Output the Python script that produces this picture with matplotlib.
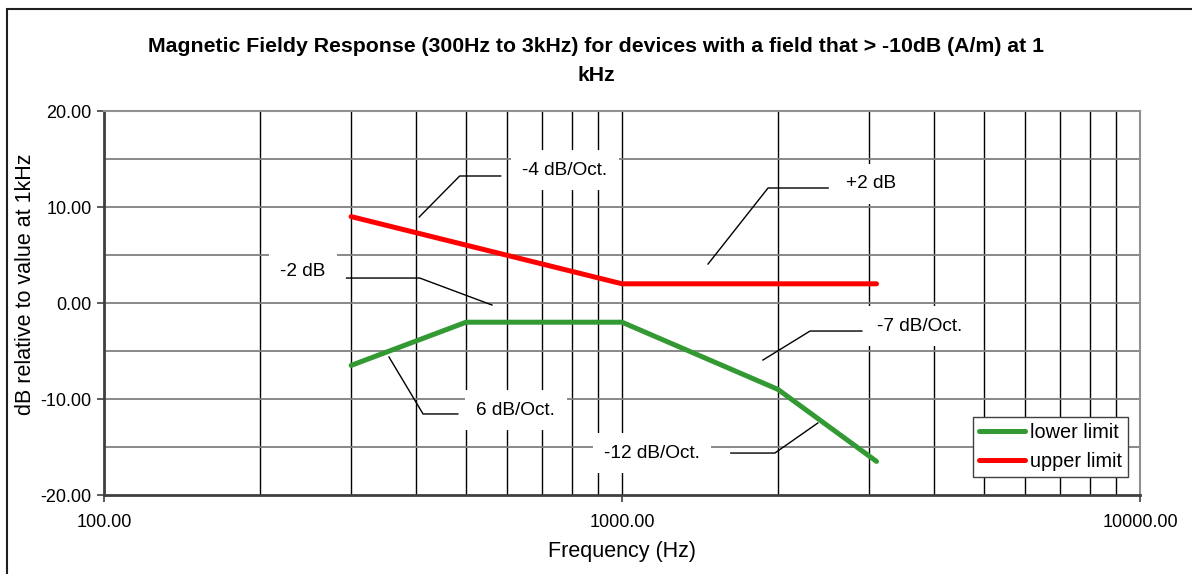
import matplotlib
matplotlib.use("Agg")
import matplotlib.pyplot as plt
from matplotlib.ticker import FixedLocator, FuncFormatter, LogLocator, NullFormatter
from matplotlib.patches import Rectangle

plt.rcParams['font.family'] = ['Liberation Sans', 'DejaVu Sans']

# ---- data ----
upper_freq = [300, 1000, 3100]
upper_db = [9.0, 2.0, 2.0]
lower_freq = [300, 500, 1000, 2000, 3100]
lower_db = [-6.5, -2.0, -2.0, -9.0, -16.5]

yticks = [-20, -10, 0, 10, 20]
xticks = [100, 1000, 10000]

title = "Magnetic Fieldy Response (300Hz to 3kHz) for devices with a field that > -10dB (A/m) at 1\nkHz"
xlabel = "Frequency (Hz)"
ylabel = "dB relative to value at 1kHz"

# annotation labels: text, text position (freq, dB), leader polyline (freq list, dB list)
ann_texts = ["-4 dB/Oct.", "-2 dB", "+2 dB", "-7 dB/Oct.", "6 dB/Oct.", "-12 dB/Oct."]
ann_text_pos = [(776, 13.85), (242, 3.23), (3027, 12.4), (3758, -2.4), (624, -11.15), (1143, -15.63)]
ann_leaders = [
    ([406, 486, 583], [8.96, 13.23, 13.23]),
    ([294, 407, 561], [2.6, 2.6, -0.21]),
    ([1466, 1914, 2500], [4.06, 11.98, 11.98]),
    ([1871, 2307, 2904], [-5.94, -2.92, -2.92]),
    ([355, 413, 482], [-5.63, -11.56, -11.56]),
    ([2388, 1973, 1622], [-12.5, -15.63, -15.63]),
]

W, H = 1192, 574
fig = plt.figure(figsize=(W / 100, H / 100), dpi=100)
fig.patch.set_facecolor('white')

# outer chart border
fig.patches.append(Rectangle((7 / W, -0.1), 1.2, 1 - 9 / H + 0.1, transform=fig.transFigure,
                             fill=False, edgecolor='#202020', linewidth=1.5))

ax = fig.add_axes([104 / W, 1 - 495 / H, (1140 - 104) / W, (495 - 111) / H])
ax.set_xscale('log')
ax.set_xlim(100, 10000)
ax.set_ylim(-20, 20)

# grid
for y in range(-15, 20, 5):
    ax.axhline(y, color='#7f7f7f', lw=1.3, zorder=1)
ax.xaxis.set_minor_locator(LogLocator(base=10, subs=range(2, 10)))
ax.grid(True, which='both', axis='x', color='black', lw=1.0, zorder=1)
ax.set_axisbelow(True)

ax.plot(lower_freq, lower_db, color='#339933', lw=3.6, solid_capstyle='round',
        solid_joinstyle='round', label='lower limit', zorder=4)
ax.plot(upper_freq, upper_db, color='#ff0000', lw=3.6, solid_capstyle='round',
        solid_joinstyle='round', label='upper limit', zorder=4)

for txt, (tx, ty), (lx, ly) in zip(ann_texts, ann_text_pos, ann_leaders):
    ax.plot(lx, ly, color='black', lw=1.0, zorder=3)
    ax.text(tx, ty, txt, fontsize=13.7, ha='center', va='center', zorder=2.5,
            bbox=dict(boxstyle='square,pad=0.6', facecolor='white', edgecolor='none'))

ax.yaxis.set_major_locator(FixedLocator(yticks))
ax.xaxis.set_major_locator(FixedLocator(xticks))
fmt = FuncFormatter(lambda v, p: f"{v:.2f}")
ax.yaxis.set_major_formatter(fmt)
ax.xaxis.set_major_formatter(fmt)
ax.xaxis.set_minor_formatter(NullFormatter())
ax.tick_params(axis='both', which='major', labelsize=13, length=5, width=1.2,
               direction='out', color='#404040')
ax.tick_params(axis='x', which='minor', length=0)
ax.tick_params(axis='x', which='major', pad=9)
ax.tick_params(axis='y', which='major', pad=4)

for s in ['left', 'bottom']:
    ax.spines[s].set_color('#404040')
    ax.spines[s].set_linewidth(2)
for s in ['top', 'right']:
    ax.spines[s].set_color('#909090')
    ax.spines[s].set_linewidth(1.5)

ax.set_xlabel(xlabel, fontsize=15.5, labelpad=7)
ax.set_ylabel(ylabel, fontsize=15.5)
ax.yaxis.set_label_coords(-0.0655, 0.549)
fig.text(0.5, 1 - 61 / H, title, fontsize=15.3, fontweight='bold', ha='center', va='center',
         multialignment='center', linespacing=1.7)

leg = ax.legend(loc='lower right', bbox_to_anchor=(1128 / W, 1 - 477 / H),
                bbox_transform=fig.transFigure, fontsize=14.3, frameon=True,
                fancybox=False, edgecolor='#404040', framealpha=1,
                handlelength=2.3, handletextpad=0.25, borderpad=0.3, labelspacing=0.5,
                borderaxespad=0)
leg.get_frame().set_linewidth(1.0)
leg.set_zorder(6)

fig.savefig('out.png', dpi=100, facecolor='white')
